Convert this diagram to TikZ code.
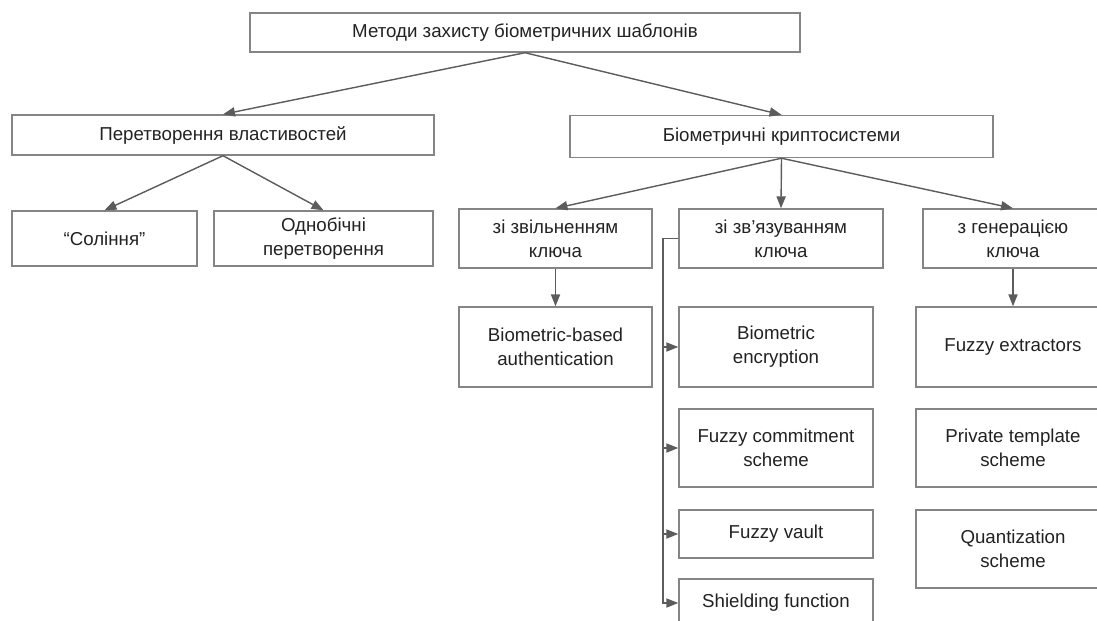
\documentclass[tikz,border=0pt]{standalone}
\usepackage{fontspec}
\setmainfont{Liberation Sans}
\usepackage{xcolor}
\usetikzlibrary{arrows.meta}

\definecolor{boxline}{HTML}{858585}
\definecolor{arrline}{HTML}{5C5C5C}
\definecolor{txt}{HTML}{222222}

\begin{document}
\begin{tikzpicture}[x=0.025cm,y=-0.025cm,>={Triangle[length=8.5pt,width=6.5pt]},
  block/.style={rectangle,draw=boxline,line width=1pt,inner sep=2pt,
    align=center,text=txt,font=\fontsize{13.3}{17.2}\selectfont},
  link/.style={->,arrline,line width=1pt},
  every edge/.style={draw}]

\useasboundingbox (0,0) rectangle (1097,620);
\clip (0,0) rectangle (1097,620);

% верхній рівень
\node[block,minimum width=13.75cm,minimum height=0.975cm] (methods) at (525,32.5) {Методи захисту біометричних шаблонів};

\node[block,minimum width=10.55cm,minimum height=1.0cm] (transform) at (223,135) {Перетворення властивостей};
\node[block,minimum width=10.575cm,minimum height=1.05cm] (crypto) at (781.5,136.5) {Біометричні криптосистеми};

% перетворення
\node[block,minimum width=4.625cm,minimum height=1.375cm] (salting) at (104.5,238.5) {“Соління”};
\node[block,minimum width=5.475cm,minimum height=1.375cm] (oneway) at (323.5,238.5) {Однобічні\\перетворення};

% криптосистеми
\node[block,minimum width=4.825cm,minimum height=1.475cm] (release) at (555.5,238.5) {зі звільненням\\ключа};
\node[block,minimum width=5.1cm,minimum height=1.475cm] (binding) at (781,238.5) {зі зв’язуванням\\ключа};
\node[block,minimum width=4.5cm,minimum height=1.475cm] (keygen) at (1013,238.5) {з генерацією\\ключа};

\node[block,minimum width=4.825cm,minimum height=2.0cm] (bbauth) at (555.5,347) {Biometric-based\\authentication};

\node[block,minimum width=4.85cm,minimum height=2.0cm] (bioenc) at (776,347) {Biometric\\encryption};
\node[block,minimum width=4.85cm,minimum height=1.95cm] (fcommit) at (776,448) {Fuzzy commitment\\scheme};
\node[block,minimum width=4.85cm,minimum height=1.2cm] (fvault) at (776,534) {Fuzzy vault};
\node[block,minimum width=4.85cm,minimum height=1.2cm] (shield) at (776,603) {Shielding function};

\node[block,minimum width=4.85cm,minimum height=2.0cm] (fextr) at (1013,347) {Fuzzy extractors};
\node[block,minimum width=4.85cm,minimum height=1.95cm] (ptempl) at (1013,448) {Private template\\scheme};
\node[block,minimum width=4.85cm,minimum height=1.95cm] (quant) at (1013,549) {Quantization\\scheme};

\path[link]
(methods.south) edge (transform.north)
(methods.south) edge (crypto.north)
(transform.south) edge (salting.north)
(transform.south) edge (oneway.north)
(crypto.south) edge (release.north)
(crypto.south) edge (binding.north)
(crypto.south) edge (keygen.north)
(release.south) edge (bbauth.north)
(keygen.south) edge (fextr.north);

\coordinate (bus) at (663,238.5);
\foreach \n in {bioenc,fcommit,fvault,shield}
  \draw[link] (binding.west) -- (bus) |- (\n.west);
\end{tikzpicture}
\end{document}
